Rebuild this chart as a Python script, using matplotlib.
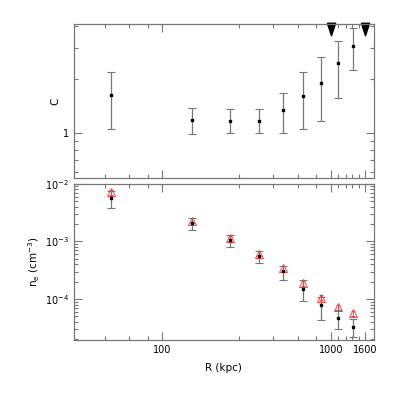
import matplotlib
matplotlib.use("Agg")
import matplotlib.pyplot as plt
import matplotlib.transforms as mtransforms
from matplotlib.ticker import FixedLocator, NullFormatter, LogLocator

plt.rcParams['font.family'] = 'DejaVu Sans'
plt.rcParams['mathtext.default'] = 'regular'
plt.rcParams['font.size'] = 7

# radii of the annuli (kpc)
r_kpc = [50, 150, 251, 375, 522, 686, 877, 1096, 1345]

# clumping factor C with asymmetric errors
c_val = [1.63, 1.18, 1.17, 1.17, 1.34, 1.62, 1.91, 2.46, 3.09]
c_lo = [1.05, 0.987, 1.0, 1.0, 1.0, 1.05, 1.16, 1.58, 2.25]
c_hi = [2.20, 1.375, 1.36, 1.36, 1.68, 2.20, 2.66, 3.31, 3.91]

# electron density (cm^-3)
ne_val = [5.75e-3, 2.1e-3, 1.06e-3, 5.57e-4, 3.05e-4, 1.5e-4, 7.8e-5, 4.7e-5, 3.3e-5]
ne_lo = [3.8e-3, 1.58e-3, 8.0e-4, 4.2e-4, 2.16e-4, 9.2e-5, 4.3e-5, 3.0e-5, 2.2e-5]
ne_hi = [7.5e-3, 2.6e-3, 1.29e-3, 6.8e-4, 3.8e-4, 2.1e-4, 1.1e-4, 6.4e-5, 4.5e-5]

# clumping-corrected density (red triangles)
ne_corr = [7.1e-3, 2.3e-3, 1.15e-3, 6.1e-4, 3.44e-4, 1.89e-4, 1.06e-4, 7.2e-5, 5.7e-5]

# limits marked at the top
lim_r = [1000, 1600]

xticks = [100, 1000, 1600]
xminor = [46, 64, 83, 284, 456, 641, 815, 1104, 1227, 1331, 1471]

gray = "#777777"

fig = plt.figure(figsize=(4.15, 4.15), dpi=100)
ax1 = fig.add_axes([0.178, 0.571, 0.723, 0.371])
ax2 = fig.add_axes([0.178, 0.181, 0.723, 0.376])

def err(v, lo, hi):
    return [[a - b for a, b in zip(v, lo)], [b - a for a, b in zip(v, hi)]]

ax1.errorbar(r_kpc, c_val, yerr=err(c_val, c_lo, c_hi), fmt='s', ms=2, color='black',
             ecolor=gray, elinewidth=0.9, capsize=3, capthick=0.8)
trans = mtransforms.blended_transform_factory(ax1.transData, ax1.transAxes)
narrow_v = [(-0.33, 0.5), (0.33, 0.5), (0, -0.5), (-0.33, 0.5)]
ax1.plot(lim_r, [0.97, 0.97], marker=narrow_v, ls='none', color='black', ms=9,
         transform=trans, clip_on=False)

ax2.errorbar(r_kpc, ne_corr, yerr=[[0.1 * v for v in ne_corr], [0.1 * v for v in ne_corr]],
             fmt='^', ms=6, mfc='none', mec='#ee4444', mew=0.7, ecolor='#ee4444',
             elinewidth=0.7, capsize=1.5)
ax2.errorbar(r_kpc, ne_val, yerr=err(ne_val, ne_lo, ne_hi), fmt='s', ms=2, color='black',
             ecolor=gray, elinewidth=0.9, capsize=3, capthick=0.8)

for ax in (ax1, ax2):
    ax.set_xscale('log')
    ax.set_yscale('log')
    ax.set_xlim(30, 1800)
    ax.xaxis.set_major_locator(FixedLocator(xticks))
    ax.xaxis.set_minor_locator(FixedLocator(xminor))
    ax.xaxis.set_minor_formatter(NullFormatter())
    ax.tick_params(which='both', direction='in', top=True, right=True, colors=gray,
                   labelcolor='black', labelsize=7, width=0.8)
    ax.tick_params(which='major', length=6)
    ax.tick_params(which='minor', length=3)
    for s in ax.spines.values():
        s.set_color(gray)
        s.set_linewidth(0.9)

ax1.set_ylim(0.557, 4.1)
ax1.yaxis.set_major_locator(FixedLocator([1]))
ax1.yaxis.set_minor_locator(FixedLocator([0.6, 0.7, 0.8, 0.9, 2, 3, 4]))
ax1.yaxis.set_major_formatter(plt.FixedFormatter(['1']))
ax1.yaxis.set_minor_formatter(NullFormatter())
ax1.set_xticklabels([])
ax1.set_ylabel('C', fontsize=7.5, labelpad=2)

ax2.set_ylim(1.95e-5, 1e-2)
ax2.yaxis.set_major_locator(FixedLocator([1e-4, 1e-3, 1e-2]))
ax2.yaxis.set_major_formatter(plt.FixedFormatter(['$10^{-4}$', '$10^{-3}$', '$10^{-2}$']))
ax2.yaxis.set_minor_locator(LogLocator(base=10, subs=range(2, 10)))
ax2.yaxis.set_minor_formatter(NullFormatter())
ax2.set_xticklabels(['100', '1000', '1600'])
ax2.set_xlabel('R (kpc)', fontsize=7.5, labelpad=6)
ax2.set_ylabel('$n_e$ (cm$^{-3}$)', fontsize=7.5, labelpad=2)

fig.savefig('out.png', dpi=100)
